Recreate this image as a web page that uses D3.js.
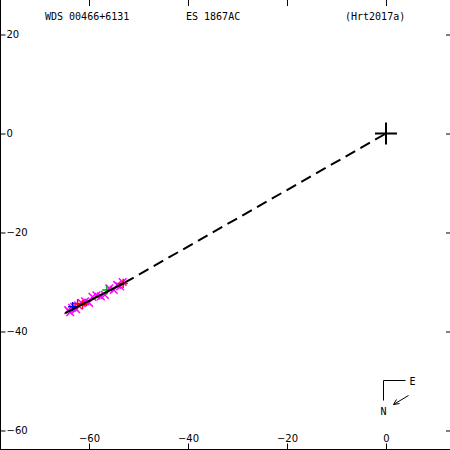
<!DOCTYPE html>
<html>
<head>
<meta charset="utf-8">
<script src="https://cdn.jsdelivr.net/npm/d3@7"></script>
<style>
  body { margin: 0; background: #fff; }
  svg { display: block; }
  .axis text { font-family: "DejaVu Sans", sans-serif; font-size: 10px; fill: #000; }
  .title { font-family: "DejaVu Sans Mono", monospace; font-size: 10px; fill: #000; }
</style>
</head>
<body>
<svg id="chart" width="450" height="450"></svg>
<script>
// Relative position of the companion (x = east offset, y = north offset)
const xTicks = [-60, -40, -20, 0];
const yTicks = [20, 0, -20, -40, -60];

// Magenta measurements
const magentaX = [-64.2, -63.8, -63.4, -63.0, -62.6, -62.2, -61.5, -60.8, -60.0, -59.3, -58.5, -57.6, -56.8, -55.9, -55.0, -54.3, -53.7, -53.2];
const magentaY = [-35.7, -36.1, -35.2, -35.0, -35.5, -34.7, -34.2, -33.9, -34.2, -33.0, -32.7, -32.9, -32.6, -31.3, -31.6, -30.6, -30.9, -30.0];

// Other measurements, by colour
const redX = [-62.3, -61.3, -53.1];
const redY = [-34.4, -34.6, -30.3];
const blueX = [-63.3];
const blueY = [-35.0];
const greenX = [-56.4];
const greenY = [-31.6];

// Linear fit and line back to the primary
const fitX = [-64.8, -52.9];
const fitY = [-36.3, -30.2];
const dashX = [-52.9, 0];
const dashY = [-30.2, 0];

const titles = ['WDS 00466+6131', 'ES 1867AC', '(Hrt2017a)'];

const width = 450, height = 450;
const svg = d3.select('#chart');

const xScale = d3.scaleLinear().domain([-77.98, 12.93]).range([0, width]);
const yScale = d3.scaleLinear().domain([26.97, -63.94]).range([0, height]);

// Frame: only left and bottom edges are drawn
svg.append('line').attr('x1', 0.5).attr('x2', 0.5).attr('y1', 0).attr('y2', height)
  .attr('stroke', '#000');
svg.append('line').attr('x1', 0).attr('x2', width).attr('y1', height - 0.5).attr('y2', height - 0.5)
  .attr('stroke', '#000');

// Axes
const leftAxis = svg.append('g').attr('class', 'axis').attr('transform', 'translate(0.5,0)')
  .call(d3.axisRight(yScale).tickValues(yTicks).tickSize(5).tickPadding(1).tickFormat(d3.format('d')));
const bottomAxis = svg.append('g').attr('class', 'axis').attr('transform', `translate(0,${height - 0.5})`)
  .call(d3.axisTop(xScale).tickValues(xTicks).tickSize(6).tickPadding(2).tickFormat(d3.format('d')));
const topAxis = svg.append('g').attr('class', 'axis')
  .call(d3.axisBottom(xScale).tickValues(xTicks).tickSize(6).tickFormat(''));
const rightAxis = svg.append('g').attr('class', 'axis').attr('transform', `translate(${width},0)`)
  .call(d3.axisLeft(yScale).tickValues(yTicks).tickSize(4).tickFormat(''));
[leftAxis, bottomAxis, topAxis, rightAxis].forEach(g => {
  g.select('.domain').remove();
  g.selectAll('.tick line').attr('stroke', '#000');
});

// Titles
svg.append('text').attr('class', 'title').attr('x', 45).attr('y', 20).text(titles[0]);
svg.append('text').attr('class', 'title').attr('x', 186).attr('y', 20).text(titles[1]);
svg.append('text').attr('class', 'title').attr('x', 345).attr('y', 20).text(titles[2]);

// Dashed line from the fit to the primary
svg.append('line')
  .attr('x1', xScale(dashX[0])).attr('y1', yScale(dashY[0]))
  .attr('x2', xScale(dashX[1])).attr('y2', yScale(dashY[1]))
  .attr('stroke', '#000').attr('stroke-width', 2).attr('stroke-dasharray', '11,6');

// Measurements
const xMark = d3.symbol().type(d3.symbolX).size(40);
const plusMark = d3.symbol().type(d3.symbolPlus).size(30);

function drawPoints(xs, ys, colour, sym) {
  svg.append('g').selectAll('path')
    .data(xs.map((x, i) => [x, ys[i]]))
    .join('path')
      .attr('transform', d => `translate(${xScale(d[0])},${yScale(d[1])})`)
      .attr('d', sym)
      .attr('fill', 'none')
      .attr('stroke', colour)
      .attr('stroke-width', 1.5);
}
drawPoints(magentaX, magentaY, '#ff00ff', xMark);
drawPoints(redX, redY, '#ff0000', plusMark);
drawPoints(blueX, blueY, '#0000ff', plusMark);
drawPoints(greenX, greenY, '#00aa00', plusMark);

// Solid fit line
svg.append('line')
  .attr('x1', xScale(fitX[0])).attr('y1', yScale(fitY[0]))
  .attr('x2', xScale(fitX[1])).attr('y2', yScale(fitY[1]))
  .attr('stroke', '#000').attr('stroke-width', 2);

// Primary star
const ox = xScale(0), oy = yScale(0);
svg.append('path')
  .attr('d', `M${ox - 11},${oy}H${ox + 11}M${ox},${oy - 11}V${oy + 11}`)
  .attr('stroke', '#000').attr('stroke-width', 2);

// Compass
const cx = 383.5, cy = 380.5;
svg.append('path')
  .attr('d', `M${cx + 22},${cy}H${cx}V${cy + 20}`)
  .attr('fill', 'none').attr('stroke', '#000');
svg.append('text').attr('class', 'title').attr('x', cx + 26).attr('y', cy + 4).text('E');
svg.append('text').attr('class', 'title').attr('x', cx - 3).attr('y', cy + 34).text('N');
svg.append('path')
  .attr('d', `M${cx + 25},${cy + 15}L${cx + 10},${cy + 24}M${cx + 10},${cy + 24}l6,-1M${cx + 10},${cy + 24}l3,-5`)
  .attr('fill', 'none').attr('stroke', '#000');
</script>
</body>
</html>
